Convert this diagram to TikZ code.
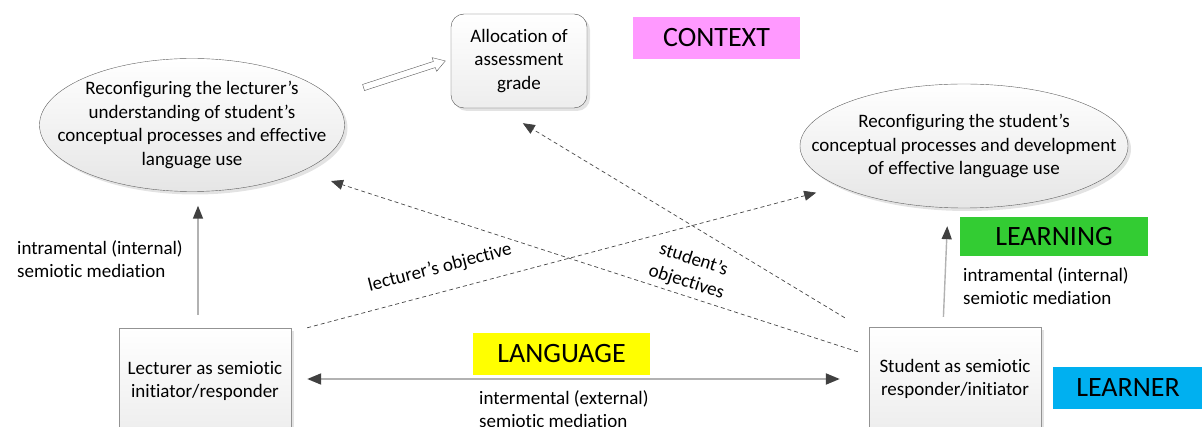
\documentclass[tikz,border=0pt]{standalone}
\usepackage{fontspec}
\setmainfont{Carlito}[Ligatures=NoCommon]
\usetikzlibrary{arrows.meta,shapes.geometric,shapes.arrows,shadows}

\definecolor{ctxpink}{HTML}{FF99FF}
\definecolor{lrngreen}{HTML}{33CC33}
\definecolor{langyellow}{HTML}{FFFF00}
\definecolor{lrnblue}{HTML}{00B0F0}
\definecolor{tipgray}{HTML}{404040}

\tikzset{
  txt/.style={font=\fontsize{19}{23.5}\selectfont, align=center},
  softshadow/.style={drop shadow={opacity=.22, shadow xshift=3pt, shadow yshift=-3pt}},
  bubble/.style={ellipse, draw=gray!75!black, top color=white, bottom color=gray!20,
    softshadow, inner sep=0pt},
  actor/.style={rectangle, draw=gray!85, top color=white, bottom color=gray!14,
    softshadow, inner sep=0pt, txt},
  tag/.style={rectangle, inner sep=0pt, font=\fontsize{28}{32}\selectfont},
  note/.style={inner sep=0pt, align=left, font=\fontsize{19}{23.5}\selectfont},
  objline/.style={draw=gray!55!black, line width=.7pt, dash pattern=on 4pt off 3pt,
    -{Triangle[length=12pt,width=10pt,color=tipgray]}},
  upline/.style={draw=gray!60, line width=1.4pt,
    -{Triangle[length=13pt,width=10pt,color=tipgray]}},
}

\begin{document}
\begin{tikzpicture}[x=1pt,y=-1pt]
\useasboundingbox (0,0) rectangle (1202,427);
\clip (0,0) rectangle (1202,427);

% the two reconfiguring bubbles and the grade box
\node[bubble, minimum width=305pt, minimum height=133pt,
  label={[txt]center:Reconfiguring the lecturer’s\\understanding of student’s\\conceptual processes and effective\\language use}]
  (lecrec) at (192,125) {};
\node[bubble, minimum width=328pt, minimum height=124pt,
  label={[txt]center:Reconfiguring the student’s\\conceptual processes and development\\of effective language use}]
  (sturec) at (964,146) {};
\node[actor, rounded corners=13pt, draw=gray!60!black, minimum width=136pt, minimum height=94pt] (alloc) at (519,61)
  {Allocation of\\assessment\\grade};
\node[single arrow, draw=gray!70!black, fill=white, inner sep=3pt, minimum height=86pt,
  single arrow head extend=4pt, single arrow tip angle=64, rotate=18] (gradearrow) at (402,75) {};

% the two participants
\node[actor, minimum width=172pt, minimum height=106pt] (lecbox) at (205,381)
  {Lecturer as semiotic\\initiator/responder};
\node[actor, minimum width=172pt, minimum height=104pt] (stubox) at (955,379)
  {Student as semiotic\\responder/initiator};

% coloured tags
\node[tag, fill=ctxpink, minimum width=167pt, minimum height=42pt] (context) at (716.5,38) {CONTEXT};
\node[tag, fill=langyellow, minimum width=177pt, minimum height=42pt] (language) at (561.5,354) {LANGUAGE};
\node[tag, fill=lrngreen, minimum width=188pt, minimum height=39pt] (learning) at (1054,236.5) {LEARNING};
\node[tag, fill=lrnblue, minimum width=150pt, minimum height=42pt] (learner) at (1128,388) {LEARNER};

% mediation labels
\node[note, anchor=west] (lecmed) at (17,259) {intramental (internal)\\semiotic mediation};
\node[note, anchor=west] (stumed) at (963,286) {intramental (internal)\\semiotic mediation};
\node[note, anchor=west] (intermed) at (479,409) {intermental (external)\\semiotic mediation};

% internal mediation arrows
\draw[upline, shorten <=13pt, shorten >=14pt] ([xshift=-7pt]lecbox.north) -- ([xshift=6pt]lecrec.south);
\draw[upline, shorten <=10pt, shorten >=18pt] ([xshift=-12pt]stubox.north) -- ([xshift=-16pt]sturec.south);

% external mediation between lecturer and student
\draw[draw=gray!60, line width=2pt, shorten <=16pt, shorten >=29pt,
  {Triangle[length=14pt,width=11pt,color=tipgray]}-{Triangle[length=14pt,width=11pt,color=tipgray]}]
  ([yshift=2pt]lecbox.east) -- ([yshift=0pt]stubox.west);

% objectives
\draw[objline, shorten >=24pt] ([xshift=16pt]lecbox.north east) -- (sturec.198);
\draw[objline, shorten >=31pt] ([xshift=-11pt,yshift=-25pt]stubox.north west) -- (lecrec.337);
\draw[objline, shorten >=29pt] ([xshift=-24pt,yshift=9pt]stubox.north west) -- ([xshift=-21pt]alloc.south);

\node[txt, rotate=14.5] (lecobj) at (440,268) {lecturer’s objective};
\node[txt, rotate=-17.8] (stuobj) at (690,271) {student’s\\objectives};
\end{tikzpicture}
\end{document}
